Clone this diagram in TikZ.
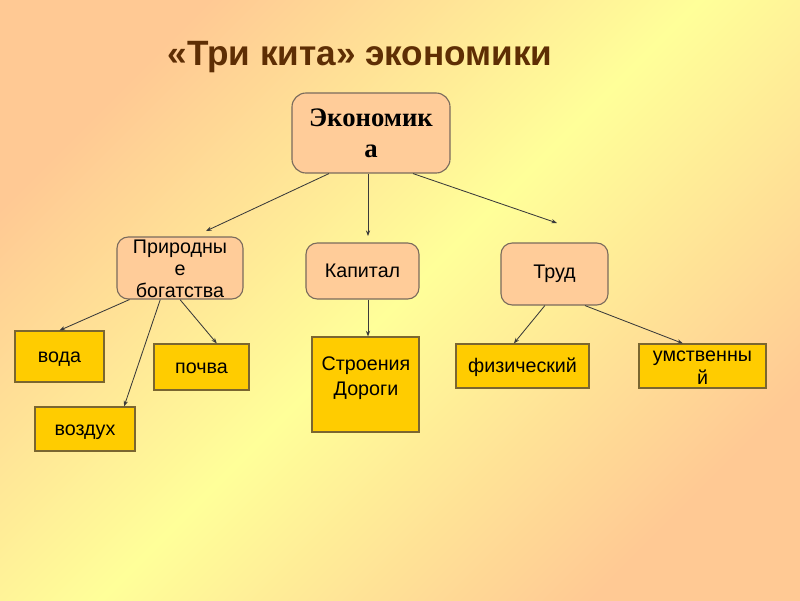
\documentclass[tikz,border=0pt]{standalone}
\usepackage{fontspec}
\setmainfont{Liberation Sans}
\newfontfamily\serifbold{Liberation Serif}
\usepackage{xcolor}
\usepackage{tikz}
\definecolor{bgpeach}{HTML}{FFC994}
\definecolor{bgyellow}{HTML}{FFFF99}
\definecolor{peachbox}{HTML}{FFCC99}
\definecolor{goldbox}{HTML}{FFCC00}
\definecolor{titlebrown}{HTML}{5E2E04}
\definecolor{boxline}{HTML}{7A6B5C}
\definecolor{leafline}{HTML}{7A6630}
\definecolor{linkgray}{HTML}{3A3A3A}
\usetikzlibrary{arrows.meta, calc}

\begin{document}
\begin{tikzpicture}[x=0.025cm, y=-0.025cm,
    topbox/.style={draw=boxline, fill=peachbox, line width=0.8pt, rounded corners=8pt, align=center, inner sep=0pt, font=\fontsize{14}{15.5}\selectfont},
    leafbox/.style={draw=leafline, fill=goldbox, line width=0.8pt, align=center, inner sep=1pt, text height=9pt, text depth=0pt, font=\fontsize{14}{17}\selectfont},
    link/.style={-{Stealth[length=4pt,width=3pt]}, draw=linkgray, line width=0.6pt}]
    % Background
    \shade[top color=bgpeach, bottom color=bgpeach, middle color=bgyellow, shading angle=45] (0,0) rectangle (800,600);
    \useasboundingbox (0,0) rectangle (800,600);

    % Title
    \node[font=\fontsize{25}{29}\selectfont\bfseries, text=titlebrown] (title) at (360,57) {«Три кита» экономики};

    % Root box
    \node[topbox, rounded corners=10pt, minimum width=3.95cm, minimum height=2cm, font=\serifbold\bfseries\fontsize{19}{22}\selectfont] (eco) at (371,133) {Экономик\\а};

    % Second level
    \node[topbox, minimum width=3.15cm, minimum height=1.55cm, text height=42pt, text depth=0pt] (prir) at (180,268) {Природны\\е\\богатства};
    \node[topbox, minimum width=2.825cm, minimum height=1.4cm] (kap) at (362.5,271) {Капитал};
    \node[topbox, minimum width=2.675cm, minimum height=1.55cm] (trud) at (554.5,274) {Труд};

    % Leaves
    \node[leafbox, minimum width=2.225cm, minimum height=1.275cm] (voda) at (59.5,356.5) {вода};
    \node[leafbox, minimum width=2.375cm, minimum height=1.15cm] (pochva) at (201.5,367) {почва};
    \node[leafbox, minimum width=2.5cm, minimum height=1.1cm] (vozduh) at (85,429) {воздух};
    \node[leafbox, minimum width=2.675cm, minimum height=2.375cm] (stroy) at (365.5,384.5) {};
    \node[align=center, font=\fontsize{14}{17.5}\selectfont, inner sep=0pt] (stroytext) at (366,378) {Строения\\Дороги};
    \node[leafbox, minimum width=3.325cm, minimum height=1.1cm] (fiz) at (522.5,366) {физический};
    \node[leafbox, minimum width=3.175cm, minimum height=1.1cm, inner sep=0pt, text height=27pt] (umst) at (702.5,366) {умственны\\й};

    % Arrows
    \coordinate (prirtip) at (206,231);
    \coordinate (kaptip) at (368,236);
    \coordinate (trudtip) at (557,223);
    \draw[link] (eco.224) -- (prirtip);
    \draw[link] (eco.south -| kaptip) -- (kaptip);
    \draw[link] (eco.316) -- (trudtip);

    \draw[link] (prir.212) -- (voda.north);
    \draw[link] (prir.238) -- (vozduh.30);
    \draw[link] (prir.south) -- (pochva.57);

    \draw[link] (kap.south -| kaptip) -- (stroy.north -| kaptip);

    \draw[link] (trud.253) -- (fiz.111);
    \draw[link] (trud.314) -- (umst.131);
\end{tikzpicture}
\end{document}
